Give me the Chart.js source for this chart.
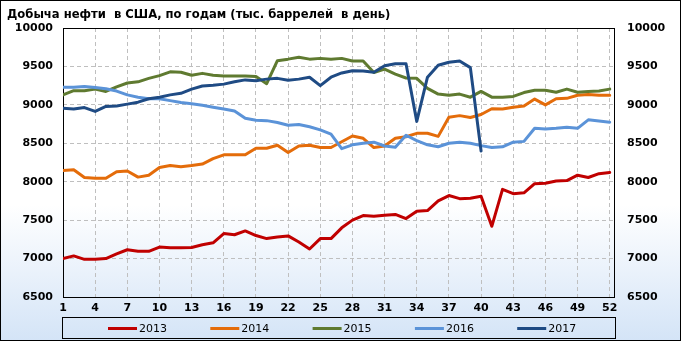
<!DOCTYPE html>
<html>
<head>
<meta charset="utf-8">
<script src="https://cdn.jsdelivr.net/npm/chart.js@4.4.1/dist/chart.umd.min.js"></script>
<style>
  html, body { margin: 0; padding: 0; background: #fff; }
</style>
</head>
<body>
<canvas id="oil" width="681" height="341"></canvas>
<script>
// недели года
const weeks = [1, 2, 3, 4, 5, 6, 7, 8, 9, 10, 11, 12, 13, 14, 15, 16, 17, 18, 19, 20, 21, 22, 23, 24, 25, 26,
  27, 28, 29, 30, 31, 32, 33, 34, 35, 36, 37, 38, 39, 40, 41, 42, 43, 44, 45, 46, 47, 48, 49, 50, 51, 52];
const xTicks = [1, 4, 7, 10, 13, 16, 19, 22, 25, 28, 31, 34, 37, 40, 43, 46, 49, 52];
const years = ["2013", "2014", "2015", "2016", "2017"];
const colors = ["#c00000", "#e46c0a", "#5f7a30", "#5b93d8", "#1f4b84"];

// тыс. баррелей в день
const y2013 = [7000, 7035, 6990, 6990, 7000, 7060, 7115, 7095, 7095, 7150, 7140, 7140, 7145, 7180, 7205, 7325,
  7310, 7360, 7300, 7260, 7280, 7295, 7215, 7125, 7260, 7260, 7400, 7500, 7560, 7550, 7565, 7575, 7520, 7615,
  7625, 7750, 7820, 7780, 7785, 7810, 7420, 7900, 7845, 7855, 7975, 7980, 8010, 8015, 8085, 8055, 8105, 8120];
const y2014 = [8145, 8155, 8055, 8045, 8045, 8130, 8140, 8060, 8085, 8185, 8210, 8195, 8210, 8230, 8300, 8350,
  8350, 8350, 8435, 8435, 8475, 8380, 8465, 8475, 8445, 8445, 8520, 8595, 8565, 8445, 8465, 8565, 8585, 8630,
  8630, 8590, 8840, 8860, 8835, 8875, 8950, 8945, 8970, 8985, 9075, 9000, 9080, 9085, 9125, 9135, 9125, 9125];
const y2015 = [9130, 9185, 9185, 9205, 9175, 9235, 9285, 9300, 9345, 9380, 9430, 9425, 9385, 9410, 9385, 9375,
  9375, 9375, 9370, 9275, 9575, 9595, 9620, 9595, 9605, 9595, 9605, 9570, 9570, 9420, 9465, 9400, 9350, 9345,
  9215, 9140, 9125, 9140, 9100, 9175, 9100, 9100, 9110, 9160, 9190, 9190, 9165, 9205, 9165, 9175, 9180, 9205];
const y2016 = [9230, 9230, 9240, 9225, 9210, 9180, 9130, 9100, 9080, 9080, 9055, 9030, 9015, 8995, 8970, 8945,
  8920, 8825, 8800, 8795, 8770, 8735, 8745, 8715, 8675, 8620, 8430, 8480, 8500, 8515, 8465, 8450, 8605, 8535,
  8480, 8455, 8500, 8515, 8500, 8470, 8445, 8455, 8515, 8525, 8695, 8685, 8695, 8710, 8695, 8805, 8790, 8775];
const y2017 = [8955, 8945, 8965, 8915, 8980, 8985, 9010, 9035, 9080, 9100, 9130, 9150, 9205, 9245, 9255, 9270,
  9300, 9325, 9315, 9335, 9345, 9320, 9335, 9360, 9250, 9360, 9415, 9445, 9440, 9425, 9510, 9535, 9535, 8785,
  9360, 9515, 9555, 9570, 9485, 8400];

const series = [y2013, y2014, y2015, y2016, y2017];
const tickFont = { family: "'DejaVu Sans'", size: 11, weight: "bold" };

// фон, рамки, легенда в рамке
const frame = {
  id: "frame",
  beforeDraw(chart) {
    const { ctx, width, height } = chart;
    const g = ctx.createLinearGradient(0, 0, 0, height);
    g.addColorStop(0, "#ffffff");
    g.addColorStop(0.6, "#ffffff");
    g.addColorStop(1, "#d4e4f7");
    ctx.save();
    ctx.fillStyle = g;
    ctx.fillRect(0, 0, width, height);
    ctx.strokeStyle = "#000";
    ctx.lineWidth = 1;
    ctx.strokeRect(0.5, 0.5, width - 1, height - 1);
    ctx.restore();
  },
  beforeDatasetsDraw(chart) {
    const { ctx, chartArea: a } = chart;
    ctx.save();
    ctx.strokeStyle = "#000";
    ctx.lineWidth = 1;
    ctx.strokeRect(Math.round(a.left) + 0.5, Math.round(a.top) + 0.5,
      Math.round(a.right - a.left), Math.round(a.bottom - a.top));
    ctx.restore();
  },
  afterDraw(chart) {
    const ctx = chart.ctx;
    ctx.save();
    ctx.strokeStyle = "#000";
    ctx.lineWidth = 1;
    ctx.strokeRect(62.5, 317.5, 553, 21);
    ctx.font = "11px 'DejaVu Sans'";
    ctx.textBaseline = "middle";
    chart.data.datasets.forEach((ds, i) => {
      const x = 108 + i * 102.3;
      ctx.strokeStyle = ds.borderColor;
      ctx.lineWidth = 3;
      ctx.beginPath();
      ctx.moveTo(x, 328.5);
      ctx.lineTo(x + 29, 328.5);
      ctx.stroke();
      ctx.fillStyle = "#000";
      ctx.fillText(ds.label, x + 31, 329);
    });
    ctx.restore();
  }
};

const yAxis = (pos, width, pad) => ({
  position: pos,
  min: 6500,
  max: 10000,
  afterFit: (s) => { s.width = width; },
  grid: { display: pos === "left", color: "#bfbfbf", drawTicks: false },
  border: { display: false, dash: [4, 3] },
  ticks: { stepSize: 500, padding: pad, color: "#000", font: tickFont, callback: (v) => String(v) }
});

new Chart(document.getElementById("oil"), {
  type: "line",
  data: {
    labels: weeks,
    datasets: series.map((vals, i) => ({
      label: years[i],
      data: vals,
      borderColor: colors[i],
      backgroundColor: colors[i],
      borderWidth: 3,
      pointRadius: 0,
      tension: 0,
      fill: false,
      borderJoinStyle: "round",
      borderCapStyle: "round",
      order: years.length - i
    }))
  },
  options: {
    responsive: false,
    animation: false,
    events: [],
    layout: { padding: { left: 7, right: 0, top: 0, bottom: 24 } },
    plugins: {
      legend: { display: false },
      tooltip: { enabled: false },
      title: {
        display: true,
        text: "Добыча нефти  в США, по годам (тыс. баррелей  в день)",
        align: "start",
        color: "#000",
        font: { family: "'DejaVu Sans'", size: 11.6, weight: "bold" },
        padding: { top: 7.9, bottom: 6.2 }
      }
    },
    scales: {
      x: {
        type: "linear",
        min: 1,
        max: 52.4,
        afterBuildTicks: (s) => { s.ticks = xTicks.map((v) => ({ value: v })); },
        afterFit: (s) => { s.height = 20; },
        grid: { color: "#bfbfbf", drawTicks: false },
        border: { display: false, dash: [4, 3] },
        ticks: { padding: 5, color: "#000", font: tickFont, maxRotation: 0, autoSkip: false, callback: (v) => String(v) }
      },
      y: yAxis("left", 56, 10),
      y2: yAxis("right", 67, 13)
    }
  },
  plugins: [frame]
});
</script>
</body>
</html>
